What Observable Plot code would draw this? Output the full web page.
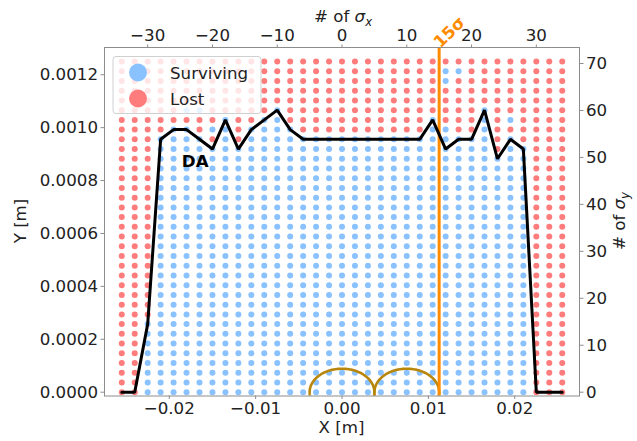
<!DOCTYPE html>
<html><head><meta charset="utf-8">
<script src="https://cdn.jsdelivr.net/npm/d3@7"></script>
<script src="https://cdn.jsdelivr.net/npm/@observablehq/plot@0.6"></script>
<style>
body{margin:0;background:#fff;}
#chart{position:relative;width:637px;height:441px;}
</style>
</head><body><div id="chart"></div>
<script>
// ---- data ----
const sigmaX = 0.00075;      // m per sigma_x
const sigmaY = 1.775e-5;     // m per sigma_y
const colSigmaX = [-34,-32,-30,-28,-26,-24,-22,-20,-18,-16,-14,-12,-10,-8,-6,-4,-2,0,2,4,6,8,10,12,14,16,18,20,22,24,26,28,30,32,34];
const rowY = [0.0000000,0.0000368,0.0000735,0.0001103,0.0001471,0.0001838,0.0002206,0.0002574,0.0002941,0.0003309,
              0.0003676,0.0004044,0.0004412,0.0004779,0.0005147,0.0005515,0.0005882,0.0006250,0.0006618,0.0006985,
              0.0007353,0.0007721,0.0008088,0.0008456,0.0008824,0.0009191,0.0009559,0.0009926,0.0010294,0.0010662,
              0.0011029,0.0011397,0.0011765,0.0012132,0.0012500];
// DA boundary: row index reached in each column
const daRow = [0,0,7,26,27,27,26,25,28,25,27,28,29,27,26,26,26,26,26,26,26,26,26,26,28,25,26,26,29,24,26,25,0,0,0];
// isolated points that differ from the DA boundary rule [sigmaX, row]
const survivingExtra = [[-24,29],[-22,29],[-20,27],[16,26],[16,27],[16,32],[16,33],[18,33],[26,28]];
const lostExtra = [];
const xTicks = [-0.02,-0.01,0,0.01,0.02];
const yTicks = [0,0.0002,0.0004,0.0006,0.0008,0.0010,0.0012];
const sigmaXTicks = [-30,-20,-10,0,10,20,30];
const sigmaYTicks = [0,10,20,30,40,50,60,70];
const beamCentersSigma = [0,10];
const beamRadiusSigma = 5;
const apertureSigma = 15;
const legendLabels = ["Surviving","Lost"];

// ---- styling ----
const BLUE = "#8ac2ff", RED = "#ff7c7c", ORANGE = "#ff8c00", GOLD = "#b8860b";
const FS = 16.67;
const key = (s,k)=>s+":"+k;
const extraS = new Set(survivingExtra.map(([s,k])=>key(s,k)));
const extraL = new Set(lostExtra.map(([s,k])=>key(s,k)));

const points = [];
colSigmaX.forEach((s,i)=>{
  rowY.forEach((y,k)=>{
    let surv = daRow[i] > 0 && k <= daRow[i];
    if (extraS.has(key(s,k))) surv = true;
    if (extraL.has(key(s,k))) surv = false;
    points.push({x: s*sigmaX, y, surv});
  });
});
const daLine = colSigmaX.map((s,i)=>({x: s*sigmaX, y: rowY[daRow[i]]}));
const ellipses = [];
beamCentersSigma.forEach((c,j)=>{
  for (let t=0;t<=120;t++){
    const a = 2*Math.PI*t/120;
    ellipses.push({id:j, x:(c+beamRadiusSigma*Math.cos(a))*sigmaX, y: beamRadiusSigma*Math.sin(a)*sigmaY});
  }
});
const minus = v => (v<0?"\u2212":"") + Math.abs(v);
const fmtX = d => (d<0?"\u2212":"") + Math.abs(d).toFixed(2);
const fmtY = d => Math.abs(d).toFixed(4);

const W=637,H=441,ML=104,MR=58,MT=47,MB=45.5;
const chart = Plot.plot({
  width:W, height:H, marginLeft:ML, marginRight:MR, marginTop:MT, marginBottom:MB,
  x:{domain:[-0.0275,0.0275]},
  y:{domain:[-0.0000144,0.001303]},
  style:{fontFamily:"DejaVu Sans", fontSize:FS+"px", color:"#222", background:"white", overflow:"visible"},
  marks:[
    Plot.dot(points,{x:"x",y:"y",r:3,fill:d=>d.surv?BLUE:RED,stroke:null}),
    Plot.line(ellipses,{x:"x",y:"y",z:"id",stroke:GOLD,strokeWidth:2.6,clip:true}),
    Plot.ruleX([apertureSigma*sigmaX],{stroke:ORANGE,strokeWidth:3}),
    Plot.line(daLine,{x:"x",y:"y",stroke:"black",strokeWidth:3,strokeLinejoin:"miter"}),
    Plot.text(["DA"],{x:-0.0170,y:0.000872,text:d=>d,fontWeight:"bold",fontSize:FS,fill:"black"}),
    Plot.text(["15σ"],{x:apertureSigma*sigmaX,frameAnchor:"top",text:d=>d,dx:-7,dy:-7,rotate:-45,textAnchor:"start",fontWeight:"bold",fontSize:FS,fill:ORANGE}),
    Plot.frame({stroke:"#8c8c8c"}),
    Plot.axisX({anchor:"bottom",ticks:xTicks,tickFormat:fmtX,tickSize:3.5,tickPadding:3,stroke:"#8c8c8c",label:null}),
    Plot.axisX({anchor:"top",ticks:sigmaXTicks.map(s=>s*sigmaX),tickFormat:d=>minus(Math.round(d/sigmaX)),tickSize:3.5,tickPadding:3,stroke:"#8c8c8c",label:null}),
    Plot.axisY({anchor:"left",ticks:yTicks,tickFormat:fmtY,tickSize:3.5,tickPadding:3,stroke:"#8c8c8c",label:null}),
    Plot.axisY({anchor:"right",ticks:sigmaYTicks.map(s=>s*sigmaY),tickFormat:d=>String(Math.round(d/sigmaY)),tickSize:3.5,tickPadding:3,stroke:"#8c8c8c",label:null})
  ]
});
document.getElementById("chart").appendChild(chart);

// ---- axis titles and legend ----
const svg = d3.select(chart);
const g = svg.append("g").attr("font-family","DejaVu Sans").attr("font-size",FS).attr("fill","#222").attr("text-anchor","middle");
g.append("text").attr("x",341.5).attr("y",433).text("X [m]");
g.append("text").attr("transform","translate(26,221) rotate(-90)").text("Y [m]");
const tx = g.append("text").attr("x",343).attr("y",22);
tx.append("tspan").text("# of ");
tx.append("tspan").attr("font-style","italic").text("σ");
tx.append("tspan").attr("font-style","italic").attr("font-size",FS*0.7).attr("dy",4).text("x");
const ty = g.append("text").attr("transform","translate(625,221) rotate(-90)");
ty.append("tspan").text("# of ");
ty.append("tspan").attr("font-style","italic").text("σ");
ty.append("tspan").attr("font-style","italic").attr("font-size",FS*0.7).attr("dy",4).text("y");

const lg = svg.append("g").attr("font-family","DejaVu Sans").attr("font-size",FS).attr("text-anchor","start");
lg.append("rect").attr("x",113).attr("y",56.5).attr("width",148).attr("height",57).attr("rx",3)
  .attr("fill","white").attr("fill-opacity",0.8).attr("stroke","#d0d0d0");
[BLUE,RED].forEach((c,i)=>{
  lg.append("circle").attr("cx",138).attr("cy",72.5+i*26).attr("r",9).attr("fill",c);
  lg.append("text").attr("x",170).attr("y",78.5+i*26).attr("fill","#222").text(legendLabels[i]);
});
</script>
</body></html>
